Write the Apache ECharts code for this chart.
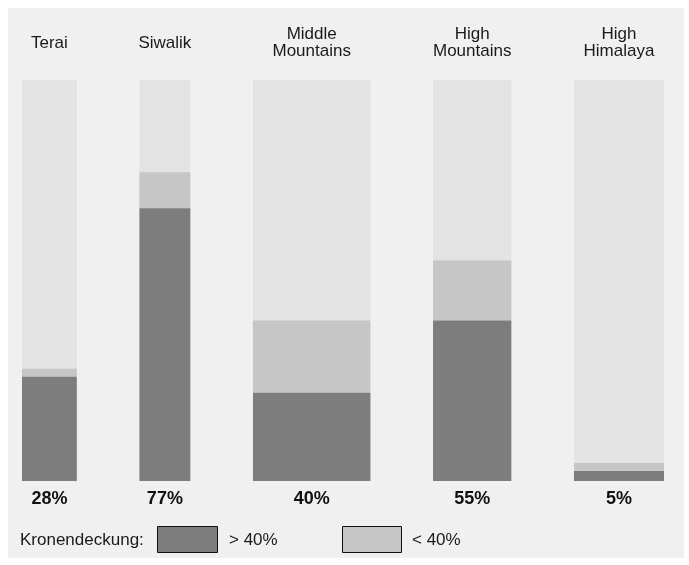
<!DOCTYPE html>
<html><head><meta charset="utf-8">
<script src="https://cdn.jsdelivr.net/npm/echarts@6/dist/echarts.min.js"></script>
<style>html,body{margin:0;padding:0;background:#fff}#c{width:689px;height:565px}</style>
</head><body><div id="c"></div>
<script>
// Regions of Nepal; bar width = share of land area (%)
const categories = ['Terai', 'Siwalik', 'Middle\nMountains', 'High\nMountains', 'High\nHimalaya'];
const areaShare = [14, 13, 30, 20, 23];
// Crown cover shares (% of region area)
const denseCover = [26, 68, 22, 40, 2.5];   // Kronendeckung > 40%
const sparseCover = [2, 9, 18, 15, 2];      // Kronendeckung < 40%
const totalLabels = ['28%', '77%', '40%', '55%', '5%'];
const legendTitle = 'Kronendeckung:';
const legendNames = ['> 40%', '< 40%'];

const GAP = 16; // gap between bars in area units
const colors = { bg: '#e3e3e3', dense: '#7d7d7d', sparse: '#c6c6c6' };

// build x-extents from area shares
const starts = [];
let acc = 0;
areaShare.forEach((w, i) => { starts.push(acc); acc += w + GAP; });
const xMax = acc - GAP;

const data = categories.map((c, i) => [starts[i], starts[i] + areaShare[i], denseCover[i], sparseCover[i], i]);

const chart = echarts.init(document.getElementById('c'), null, { renderer: 'canvas' });
const font = '"Liberation Sans", Arial, sans-serif';

function renderItem(params, api) {
  const x0 = api.value(0), x1 = api.value(1), d = api.value(2), s = api.value(3), i = api.value(4);
  const pTL = api.coord([x0, 100]);
  const pBR = api.coord([x1, 0]);
  const pD = api.coord([x0, d]);
  const pS = api.coord([x0, d + s]);
  const w = pBR[0] - pTL[0];
  const cx = (pTL[0] + pBR[0]) / 2;
  return {
    type: 'group',
    children: [
      { type: 'rect', shape: { x: pTL[0], y: pTL[1], width: w, height: pBR[1] - pTL[1] }, style: { fill: colors.bg } },
      { type: 'rect', shape: { x: pTL[0], y: pS[1], width: w, height: pD[1] - pS[1] }, style: { fill: colors.sparse } },
      { type: 'rect', shape: { x: pTL[0], y: pD[1], width: w, height: pBR[1] - pD[1] }, style: { fill: colors.dense } },
      { type: 'text', x: cx, y: pTL[1] - 37, style: { text: categories[i], fill: '#1a1a1a', font: '17px ' + font, align: 'center', verticalAlign: 'middle', lineHeight: 17 } },
      { type: 'text', x: cx, y: pBR[1] + 18, style: { text: totalLabels[i], fill: '#111', font: 'bold 18px ' + font, align: 'center', verticalAlign: 'middle' } }
    ]
  };
}

chart.setOption({
  backgroundColor: '#ffffff',
  animation: false,
  grid: { left: 22, right: 25, top: 80, bottom: 84 },
  xAxis: { type: 'value', min: 0, max: xMax, show: false },
  yAxis: { type: 'value', min: 0, max: 100, show: false },
  graphic: [
    { type: 'rect', z: -10, silent: true, shape: { x: 8, y: 8, width: 676, height: 550 }, style: { fill: '#f0f0f0' } },
    { type: 'text', x: 20, y: 540, style: { text: legendTitle, fill: '#1a1a1a', font: '17px ' + font, verticalAlign: 'middle' } },
    { type: 'rect', shape: { x: 157.5, y: 526.5, width: 60, height: 26 }, style: { fill: colors.dense, stroke: '#111', lineWidth: 1 } },
    { type: 'text', x: 229, y: 540, style: { text: legendNames[0], fill: '#1a1a1a', font: '17px ' + font, verticalAlign: 'middle' } },
    { type: 'rect', shape: { x: 342.5, y: 526.5, width: 59, height: 26 }, style: { fill: colors.sparse, stroke: '#111', lineWidth: 1 } },
    { type: 'text', x: 412, y: 540, style: { text: legendNames[1], fill: '#1a1a1a', font: '17px ' + font, verticalAlign: 'middle' } }
  ],
  series: [{ type: 'custom', renderItem: renderItem, data: data, encode: { x: [0, 1], y: [2, 3] } }]
});
</script></body></html>
